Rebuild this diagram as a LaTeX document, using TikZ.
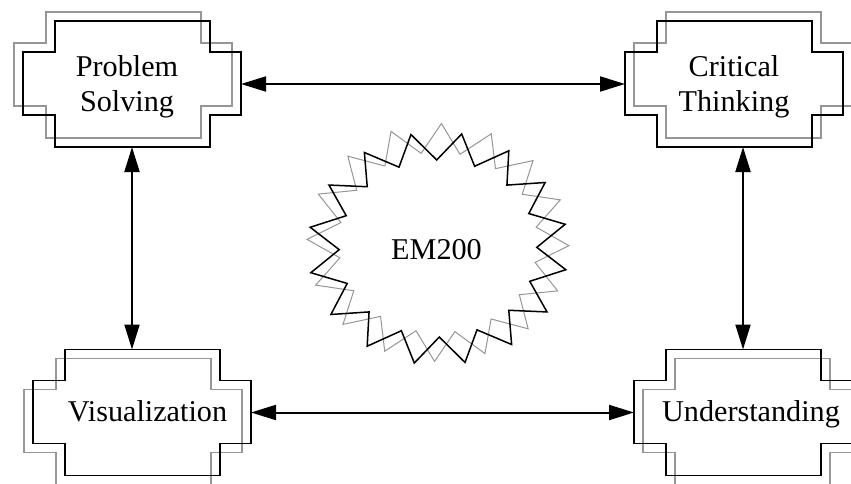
\documentclass[tikz,border=0pt]{standalone}
\usepackage{fontspec}
\setmainfont{Liberation Serif}
\usetikzlibrary{arrows.meta}
\definecolor{shadowgray}{RGB}{150,150,150}
\definecolor{stargray}{RGB}{150,150,150}
\tikzset{
  boxnode/.style={minimum width=218pt, minimum height=126pt, inner sep=0pt, outer sep=0pt, draw=none},
  blk/.style={line width=1.5pt, draw=black},
  gry/.style={line width=1.5pt, draw=shadowgray},
  bstar/.style={line width=1.5pt, draw=black},
  gstar/.style={line width=1pt, draw=stargray},
  lbl/.style={font=\fontsize{30.2}{35}\selectfont, align=center, inner sep=0pt},
  arr/.style={line width=2pt, {Triangle[length=25pt,width=15pt]}-{Triangle[length=25pt,width=15pt]}},
}
\newcommand\stepline[4]{%
  \draw[#4] ([shift={(#2+32,#3)}]#1.north west) -- ([shift={(#2-31,#3)}]#1.north east)
    -- ++(0,-31) -- ++(31,0) -- ([shift={(#2,#3+32)}]#1.south east) -- ++(-31,0) -- ++(0,-32)
    -- ([shift={(#2+32,#3)}]#1.south west) -- ++(0,32) -- ++(-32,0)
    -- ([shift={(#2,#3-31)}]#1.north west) -- ++(32,0) -- cycle;
}
\begin{document}
\begin{tikzpicture}[x=1pt,y=1pt]
\useasboundingbox (0,0) rectangle (851,483);
% box frames
\node[boxnode] (tl) at (132,399) {};
\node[boxnode] (tr) at (734,399) {};
\node[boxnode] (bl) at (142,70.5) {};
\node[boxnode] (br) at (743,70.5) {};
% gray shadows
\stepline{tl}{-9}{9}{gry}
\stepline{tr}{9}{9}{gry}
\stepline{bl}{-9}{-9}{gry}
\stepline{br}{9}{-9}{gry}
% black outlines
\stepline{tl}{0}{0}{blk}
\stepline{tr}{0}{0}{blk}
\stepline{bl}{0}{0}{blk}
\stepline{br}{0}{0}{blk}
% labels
\node[lbl] (tlt) at (127,396.4) {Problem\\Solving};
\node[lbl] (trt) at (734,396.4) {Critical\\Thinking};
\node[lbl, anchor=base] (blt) at (147.5,61.3) {Visualization};
\node[lbl, anchor=base] (brt) at (751,61.3) {Understanding};
% star
\coordinate (sc) at (438,234.5);
\draw[gstar, shift={(sc)}, yshift=6pt] plot[samples at={0,...,31}, variable=\k]
  ({131*(0.88+0.12*cos(180*\k))*cos(21+11.25*\k)}, {119*(0.88+0.12*cos(180*\k))*sin(21+11.25*\k)}) -- cycle;
\draw[bstar, shift={(sc)}] plot[samples at={0,...,31}, variable=\k]
  ({130*(0.88+0.12*cos(180*\k))*cos(12+11.25*\k)}, {116.5*(0.88+0.12*cos(180*\k))*sin(12+11.25*\k)}) -- cycle;
\node[lbl, anchor=base] (em) at (436.5,224) {EM200};
% connectors
\draw[arr] (tl.east) -- (tr.west);
\draw[arr] (tl.south) -- (tl.south |- bl.north);
\draw[arr] (br.north |- tr.south) -- (br.north);
\draw[arr] (bl.east) -- (br.west);
\end{tikzpicture}
\end{document}
